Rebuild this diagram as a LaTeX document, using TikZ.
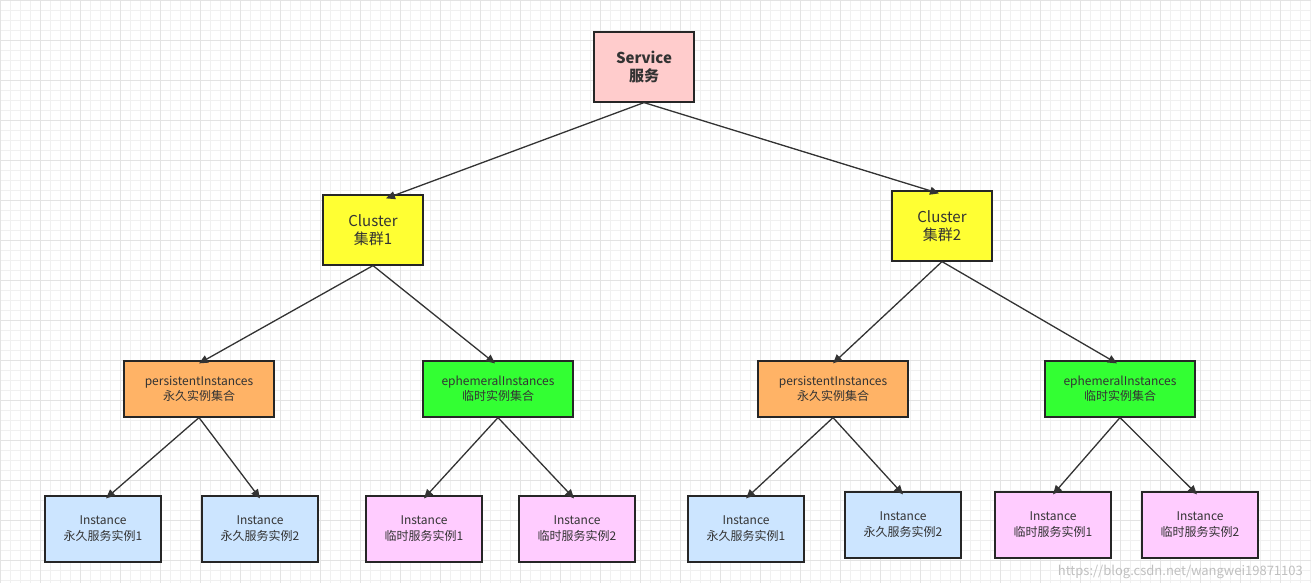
\documentclass[tikz,border=0pt]{standalone}
\usepackage{fontspec}
\setmainfont{Noto Sans CJK SC}
\usetikzlibrary{arrows.meta}
\definecolor{svc}{HTML}{FFCCCC}
\definecolor{cl}{HTML}{FFFF33}
\definecolor{pe}{HTML}{FFB366}
\definecolor{ep}{HTML}{33FF33}
\definecolor{ib}{HTML}{CCE5FF}
\definecolor{ip}{HTML}{FFCCFF}
\definecolor{txt}{HTML}{333333}
\begin{document}
\begin{tikzpicture}[x=1pt,y=-1pt,
 box/.style={draw=black!85,line width=1.2pt,align=center,text=txt,inner sep=0pt,font=\fontsize{11}{14}\selectfont},
 big/.style={box,minimum width=100pt,minimum height=70pt,font=\fontsize{15}{18}\selectfont},
 mid/.style={box,minimum width=150pt,minimum height=56pt,font=\fontsize{12}{15}\selectfont},
 inst/.style={box,minimum width=116pt,minimum height=66pt,font=\fontsize{12}{16}\selectfont},
 ar/.style={draw=black!80,line width=1.3pt,-{Triangle[length=9pt,width=8pt]}}]
\useasboundingbox (0,0) rectangle (1311,583);
\fill[white] (0,0) rectangle (1311,583);
\draw[black!6,line width=0.4pt] (0,0) grid[step=10pt] (1311,583);
\draw[black!11,line width=0.5pt] (0,0) grid[step=40pt] (1311,583);
\node[big,fill=svc,font=\fontsize{15}{18}\selectfont\bfseries] (s) at (644,67) {Service\\服务};
\node[big,fill=cl] (c1) at (373,230) {Cluster\\集群1};
\node[big,fill=cl] (c2) at (942,226) {Cluster\\集群2};
\node[mid,fill=pe] (p1) at (199,389) {persistentInstances\\永久实例集合};
\node[mid,fill=ep] (e1) at (498,389) {ephemeralInstances\\临时实例集合};
\node[mid,fill=pe] (p2) at (833,389) {persistentInstances\\永久实例集合};
\node[mid,fill=ep] (e2) at (1120,389) {ephemeralInstances\\临时实例集合};
\node[inst,fill=ib] (i1) at (103,529) {Instance\\永久服务实例1};
\node[inst,fill=ib] (i2) at (260,529) {Instance\\永久服务实例2};
\node[inst,fill=ip] (i3) at (424,529) {Instance\\临时服务实例1};
\node[inst,fill=ip] (i4) at (577,529) {Instance\\临时服务实例2};
\node[inst,fill=ib] (i5) at (746,529) {Instance\\永久服务实例1};
\node[inst,fill=ib] (i6) at (903,525) {Instance\\永久服务实例2};
\node[inst,fill=ip] (i7) at (1053,525) {Instance\\临时服务实例1};
\node[inst,fill=ip] (i8) at (1200,525) {Instance\\临时服务实例2};
\draw[ar] (s.south) -- ([xshift=13pt,yshift=-4pt]c1.north);
\draw[ar] (s.south) -- ([xshift=-3pt,yshift=-3pt]c2.north);
\draw[ar] (c1.south) -- ([yshift=-3pt]p1.north);
\draw[ar] (c1.south) -- ([xshift=-3pt,yshift=-3pt]e1.north);
\draw[ar] (c2.south) -- ([yshift=-3pt]p2.north);
\draw[ar] (c2.south) -- ([xshift=-3pt,yshift=-3pt]e2.north);
\draw[ar] (p1.south) -- ([xshift=3pt,yshift=-3pt]i1.north);
\draw[ar] (p1.south) -- ([yshift=-3pt]i2.north);
\draw[ar] (e1.south) -- ([yshift=-3pt]i3.north);
\draw[ar] (e1.south) -- ([xshift=-3pt,yshift=-3pt]i4.north);
\draw[ar] (p2.south) -- ([yshift=-3pt]i5.north);
\draw[ar] (p2.south) -- ([yshift=-3pt]i6.north);
\draw[ar] (e2.south) -- ([yshift=-3pt]i7.north);
\draw[ar] (e2.south) -- ([xshift=-3pt,yshift=-3pt]i8.north);
\node[anchor=south east,text=black!25,font=\fontsize{13}{15}\selectfont,inner sep=2pt] (wm) at (1305,581) {https://blog.csdn.net/wangwei19871103};
\end{tikzpicture}
\end{document}
